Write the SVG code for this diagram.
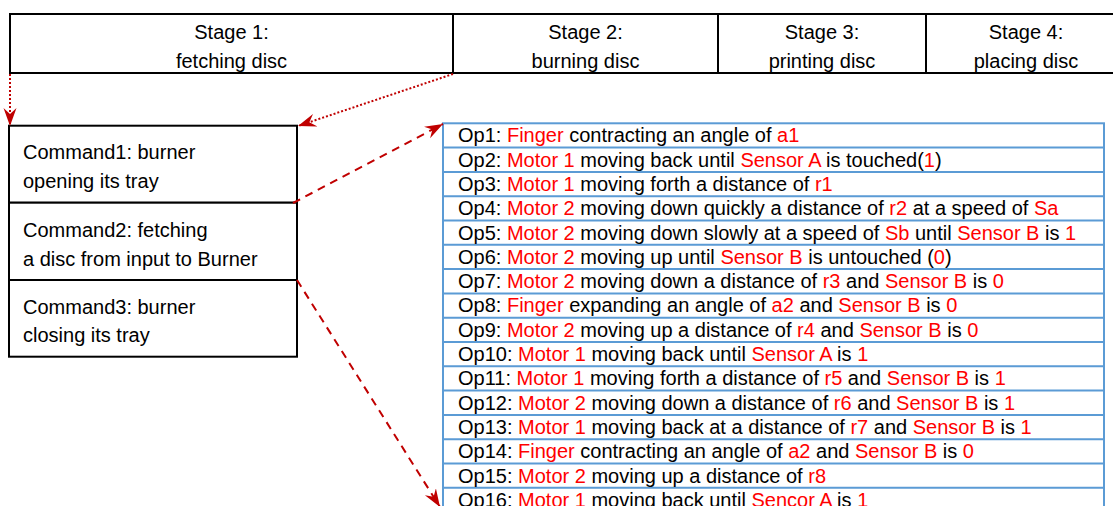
<svg xmlns="http://www.w3.org/2000/svg" width="1113" height="506" viewBox="0 0 1113 506">
<style>
text{font-family:"Liberation Sans",Arial,sans-serif;font-size:20px;fill:#000}
.c{text-anchor:middle}
.r{fill:#ff0000}
.blk{fill:#fff;stroke:#000;stroke-width:2}
.op{fill:none;stroke:#5b9bd5;stroke-width:2}
.dot{fill:none;stroke:#c00000;stroke-width:2;stroke-dasharray:2 2}
.dash{fill:none;stroke:#c00000;stroke-width:2;stroke-dasharray:8 6}
</style>
<defs>
<marker id="ah" markerUnits="userSpaceOnUse" markerWidth="20" markerHeight="14" refX="18" refY="6.5" orient="auto">
<path d="M0,0 L18,6.5 L0,13 L6,6.5 Z" fill="#c00000"/>
</marker>
</defs>
<g id="stages">
<path class="blk" d="M1120,14 H10 V73 H1120 M453,14 V73 M718,14 V73 M926,14 V73"/>
<text class="c" x="231.5" y="39">Stage 1:</text>
<text class="c" x="231.5" y="68">fetching disc</text>
<text class="c" x="585.5" y="39">Stage 2:</text>
<text class="c" x="585.5" y="68">burning disc</text>
<text class="c" x="822" y="39">Stage 3:</text>
<text class="c" x="822" y="68">printing disc</text>
<text class="c" x="1026" y="39">Stage 4:</text>
<text class="c" x="1026" y="68">placing disc</text>
</g>
<g id="command1">
<rect class="blk" x="9" y="125.7" width="288" height="77"/>
<text x="23" y="158.5">Command1: burner</text>
<text x="23" y="187.5">opening its tray</text>
</g>
<g id="command2">
<rect class="blk" x="9" y="202.7" width="288" height="77.3"/>
<text x="23" y="236.5">Command2: fetching</text>
<text x="23" y="265.5">a disc from input to Burner</text>
</g>
<g id="command3">
<rect class="blk" x="9" y="280" width="288" height="76.7"/>
<text x="23" y="313.5">Command3: burner</text>
<text x="23" y="342">closing its tray</text>
</g>
<g id="operations">
<rect class="op" x="443" y="123.3" width="661" height="390"/>
<path class="op" d="M443,147.6 H1104 M443,171.9 H1104 M443,196.2 H1104 M443,220.5 H1104 M443,244.8 H1104 M443,269.1 H1104 M443,293.4 H1104 M443,317.7 H1104 M443,342 H1104 M443,366.3 H1104 M443,390.6 H1104 M443,414.9 H1104 M443,439.2 H1104 M443,463.5 H1104 M443,487.8 H1104"/>
<text x="458" y="142.3">Op1: <tspan class="r">Finger</tspan> contracting an angle of <tspan class="r">a1</tspan></text>
<text x="458" y="166.6">Op2: <tspan class="r">Motor 1</tspan> moving back until <tspan class="r">Sensor A</tspan> is touched(<tspan class="r">1</tspan>)</text>
<text x="458" y="190.9">Op3: <tspan class="r">Motor 1</tspan> moving forth a distance of <tspan class="r">r1</tspan></text>
<text x="458" y="215.2">Op4: <tspan class="r">Motor 2</tspan> moving down quickly a distance of <tspan class="r">r2</tspan> at a speed of <tspan class="r">Sa</tspan></text>
<text x="458" y="239.5">Op5: <tspan class="r">Motor 2</tspan> moving down slowly at a speed of <tspan class="r">Sb</tspan> until <tspan class="r">Sensor B</tspan> is <tspan class="r">1</tspan></text>
<text x="458" y="263.8">Op6: <tspan class="r">Motor 2</tspan> moving up until <tspan class="r">Sensor B</tspan> is untouched (<tspan class="r">0</tspan>)</text>
<text x="458" y="288.1">Op7: <tspan class="r">Motor 2</tspan> moving down a distance of <tspan class="r">r3</tspan> and <tspan class="r">Sensor B</tspan> is <tspan class="r">0</tspan></text>
<text x="458" y="312.4">Op8: <tspan class="r">Finger</tspan> expanding an angle of <tspan class="r">a2</tspan> and <tspan class="r">Sensor B</tspan> is <tspan class="r">0</tspan></text>
<text x="458" y="336.7">Op9: <tspan class="r">Motor 2</tspan> moving up a distance of <tspan class="r">r4</tspan> and <tspan class="r">Sensor B</tspan> is <tspan class="r">0</tspan></text>
<text x="458" y="361">Op10: <tspan class="r">Motor 1</tspan> moving back until <tspan class="r">Sensor A</tspan> is <tspan class="r">1</tspan></text>
<text x="458" y="385.3">Op11: <tspan class="r">Motor 1</tspan> moving forth a distance of <tspan class="r">r5</tspan> and <tspan class="r">Sensor B</tspan> is <tspan class="r">1</tspan></text>
<text x="458" y="409.6">Op12: <tspan class="r">Motor 2</tspan> moving down a distance of <tspan class="r">r6</tspan> and <tspan class="r">Sensor B</tspan> is <tspan class="r">1</tspan></text>
<text x="458" y="433.9">Op13: <tspan class="r">Motor 1</tspan> moving back at a distance of <tspan class="r">r7</tspan> and <tspan class="r">Sensor B</tspan> is <tspan class="r">1</tspan></text>
<text x="458" y="458.2">Op14: <tspan class="r">Finger</tspan> contracting an angle of <tspan class="r">a2</tspan> and <tspan class="r">Sensor B</tspan> is <tspan class="r">0</tspan></text>
<text x="458" y="482.5">Op15: <tspan class="r">Motor 2</tspan> moving up a distance of <tspan class="r">r8</tspan></text>
<text x="458" y="506.8">Op16: <tspan class="r">Motor 1</tspan> moving back until <tspan class="r">Sencor A</tspan> is <tspan class="r">1</tspan></text>
</g>
<g id="connectors">
<path class="dot" d="M10,74 L10,126" marker-end="url(#ah)"/>
<path class="dot" d="M453,74 L298,126" marker-end="url(#ah)"/>
<path class="dash" d="M293,203 L443,124" marker-end="url(#ah)"/>
<path class="dash" d="M297,280 L440,507" marker-end="url(#ah)"/>
</g>
</svg>
